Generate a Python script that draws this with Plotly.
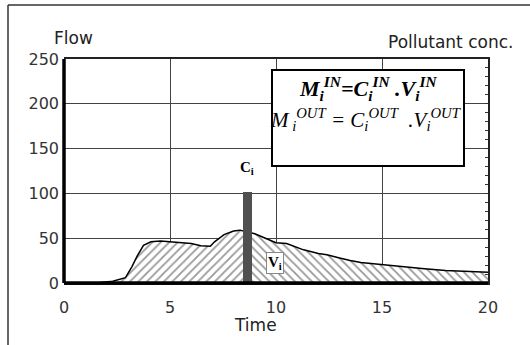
import plotly.graph_objects as go

# ---- data ----
time = [0, 1, 1.7, 2.3, 2.65, 2.9, 3.2, 3.45, 3.75, 4.1, 4.55, 5.0, 5.5, 6.0, 6.45,
        6.9, 7.1, 7.55, 8.0, 8.3, 8.65, 9.0, 9.5, 10.0, 10.5, 11.0, 11.3, 12.0, 12.4,
        13.0, 13.5, 14.0, 15.0, 16.0, 16.6, 17.0, 18.0, 19.0, 20.0]
flow = [0, 0, 0.5, 2, 4, 6, 18, 30, 42, 46, 47, 46, 45, 44, 41.5,
        41, 46, 54, 58, 59, 57, 55, 50, 45, 44, 40, 37, 33, 31.5,
        28, 25, 23, 20.5, 18, 16.7, 16, 14, 13, 12]
pulse_time = [8.65]
pulse_conc = [102]
pulse_width = 0.42

split = time.index(pulse_time[0])
t_left, f_left = time[:split + 1], flow[:split + 1]
t_right, f_right = time[split:], flow[split:]

fig = go.Figure()
fig.add_trace(go.Scatter(
    x=t_left, y=f_left, mode="lines", fill="tozeroy",
    line=dict(color="black", width=1.5),
    fillcolor="white",
    fillpattern=dict(shape="/", fgcolor="#333333", bgcolor="white", size=6, solidity=0.3),
    showlegend=False, hoverinfo="skip"))
fig.add_trace(go.Scatter(
    x=t_right, y=f_right, mode="lines", fill="tozeroy",
    line=dict(color="black", width=1.5),
    fillcolor="white",
    fillpattern=dict(shape="\\", fgcolor="#333333", bgcolor="white", size=6, solidity=0.3),
    showlegend=False, hoverinfo="skip"))
# pollutant pulse on the right-hand (concentration) axis, drawn on top
fig.add_trace(go.Bar(
    x=pulse_time, y=pulse_conc, width=pulse_width, yaxis="y2",
    marker=dict(color="#505050", line=dict(width=0)),
    showlegend=False, hoverinfo="skip"))

L, R, T, B = 64, 42, 59, 62
W, H = 530, 345
pw, ph = W - L - R, H - T - B

def px(x):
    return (x - L) / pw

def py(y):
    return (H - B - y) / ph

fig.update_layout(
    width=W, height=H,
    margin=dict(l=L, r=R, t=T, b=B),
    paper_bgcolor="white", plot_bgcolor="white",
    font=dict(family="DejaVu Sans", size=16, color="#222222"),
    bargap=0,
    xaxis=dict(range=[0, 20], tickvals=[0, 5, 10, 15, 20],
               showgrid=True, gridcolor="#444444", gridwidth=1,
               zeroline=False, showline=True, linecolor="#222222", linewidth=2,
               mirror=True, ticks="", ticklabelstandoff=9,
               tickfont=dict(family="DejaVu Sans", size=16, color="#333333")),
    yaxis=dict(range=[0, 250], tickvals=[0, 50, 100, 150, 200, 250],
               showgrid=True, gridcolor="#444444", gridwidth=1,
               zeroline=False, showline=False, ticks="", ticklabelstandoff=4,
               tickfont=dict(family="DejaVu Sans", size=16, color="#333333")),
    yaxis2=dict(range=[0, 250], overlaying="y", side="right", showgrid=False,
                showticklabels=False, ticks="inside", dtick=10, ticklen=3,
                tickcolor="#333333", tickwidth=1, showline=True,
                linecolor="#222222", linewidth=2, zeroline=False),
)

shapes = [
    # thick left and bottom axes
    dict(type="line", xref="paper", yref="paper", x0=0, x1=0, y0=0, y1=1,
         line=dict(color="black", width=3.5)),
    dict(type="line", xref="paper", yref="paper", x0=0, x1=1, y0=0, y1=0,
         line=dict(color="black", width=3.5)),
    # outer frame
    dict(type="line", xref="paper", yref="paper", x0=px(8), x1=px(8), y0=py(360), y1=py(5),
         line=dict(color="#333333", width=1.5)),
    dict(type="line", xref="paper", yref="paper", x0=px(8), x1=px(560), y0=py(5), y1=py(5),
         line=dict(color="#333333", width=1.5)),
    # formula box
    dict(type="rect", xref="paper", yref="paper", x0=px(272), x1=px(464), y0=py(166), y1=py(70),
         line=dict(color="black", width=2), fillcolor="white", layer="above"),
]
fig.update_layout(shapes=shapes)

serif = "Liberation Serif"

def note(text, x, y, font, xref="paper", yref="paper", **kw):
    return dict(text=text, x=x, y=y, xref=xref, yref=yref, showarrow=False,
                xanchor="center", yanchor="middle", font=font, **kw)

sans17 = dict(family="DejaVu Sans", size=17, color="#222222")
ann = [
    note("Flow", px(73), py(38), sans17),
    note("Pollutant conc.", px(450), py(42), sans17),
    note("Time", px(255), py(325), sans17),
    note("<b><i>M<sub>i</sub><sup>IN</sup>=C<sub>i</sub><sup>IN</sup> .V<sub>i</sub><sup>IN</sup></i></b>",
         px(368), py(88), dict(family=serif, size=22, color="black")),
    note("<i>M<sub> i</sub><sup>OUT</sup> = C<sub>i</sub><sup>OUT</sup>  .V<sub>i</sub><sup>OUT</sup></i>",
         px(366), py(119), dict(family=serif, size=21, color="black")),
    note("<b>C<sub>i</sub></b>", pulse_time[0], 128, dict(family=serif, size=15, color="black"),
         xref="x", yref="y"),
    note("<b>V<sub>i</sub></b>", 9.95, 22.5, dict(family=serif, size=15, color="black"),
         xref="x", yref="y", bgcolor="white", bordercolor="#888888", borderwidth=1, borderpad=1),
]
fig.update_layout(annotations=ann)

fig.write_html("out.html")
